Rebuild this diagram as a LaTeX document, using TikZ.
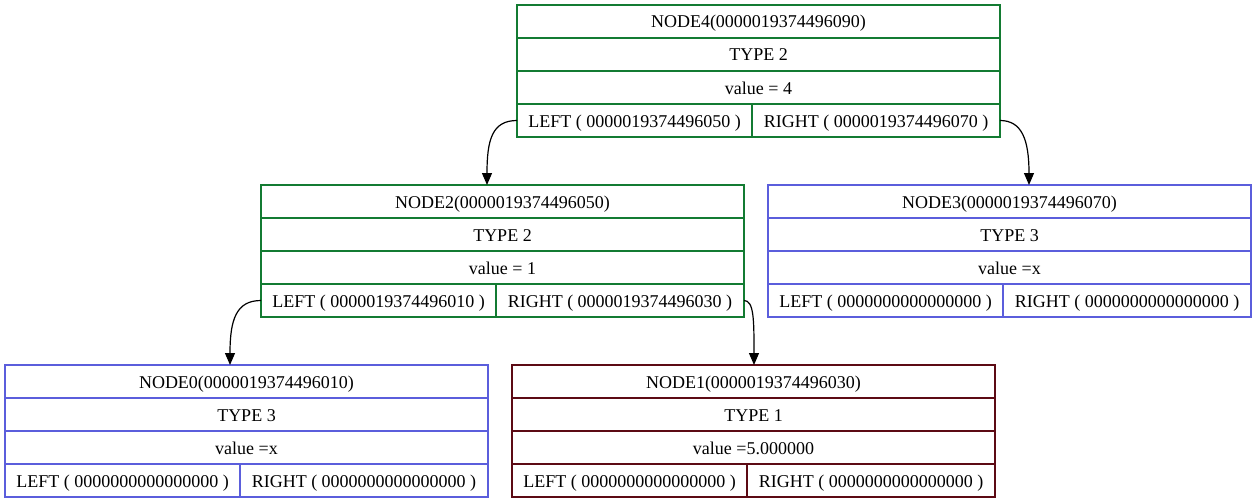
\documentclass[tikz,border=0pt]{standalone}
\usepackage{fontspec}
\setmainfont{Liberation Serif}
\usetikzlibrary{arrows.meta}
\definecolor{recgreen}{HTML}{137B32}
\definecolor{recblue}{HTML}{5B5EDC}
\definecolor{recred}{HTML}{5C0A14}
\tikzset{
  cell/.style={draw, line width=2pt, rectangle, inner sep=0pt, outer sep=0pt, minimum height=33pt,
    text height=15pt, text depth=2pt,
    font=\fontsize{18}{20}\selectfont, anchor=north west},
  link/.style={line width=1.2pt, -{Triangle[length=12pt,width=10pt]}}
}
% record: name, left x, top y, colour, title, type, value, left ptr, right ptr
\newcommand{\record}[9]{%
  \node[cell,draw=#4,minimum width=483pt] (#1t) at (#2,#3) {#5};
  \node[cell,draw=#4,minimum width=483pt] (#1y) at (#1t.south west) {#6};
  \node[cell,draw=#4,minimum width=483pt] (#1v) at (#1y.south west) {#7};
  \node[cell,draw=#4,minimum width=235pt] (#1l) at (#1v.south west) {#8};
  \node[cell,draw=#4,minimum width=248pt] (#1r) at (#1l.north east) {#9};
}
\begin{document}
\begin{tikzpicture}[x=1pt,y=-1pt]
  \useasboundingbox (0,0) rectangle (1256,503);
  \record{n4}{517}{5}{recgreen}{NODE4(0000019374496090)}{TYPE 2}{value = 4}{LEFT ( 0000019374496050 )}{RIGHT ( 0000019374496070 )}
  \record{n2}{261}{185}{recgreen}{NODE2(0000019374496050)}{TYPE 2}{value = 1}{LEFT ( 0000019374496010 )}{RIGHT ( 0000019374496030 )}
  \record{n3}{768}{185}{recblue}{NODE3(0000019374496070)}{TYPE 3}{value =x}{LEFT ( 0000000000000000 )}{RIGHT ( 0000000000000000 )}
  \record{n0}{5}{365}{recblue}{NODE0(0000019374496010)}{TYPE 3}{value =x}{LEFT ( 0000000000000000 )}{RIGHT ( 0000000000000000 )}
  \record{n1}{512}{365}{recred}{NODE1(0000019374496030)}{TYPE 1}{value =5.000000}{LEFT ( 0000000000000000 )}{RIGHT ( 0000000000000000 )}

  \draw[link] (n4l.west) .. controls +(-25,0) and +(0,-45) .. ([xshift=226pt]n2t.north west);
  \draw[link] (n4r.east) .. controls +(22,0) and +(0,-45) .. ([xshift=261pt]n3t.north west);
  \draw[link] (n2l.west) .. controls +(-25,0) and +(0,-45) .. ([xshift=225pt]n0t.north west);
  \draw[link] (n2r.east) .. controls +(10,0) and +(0,-45) .. ([xshift=242pt]n1t.north west);
\end{tikzpicture}
\end{document}
